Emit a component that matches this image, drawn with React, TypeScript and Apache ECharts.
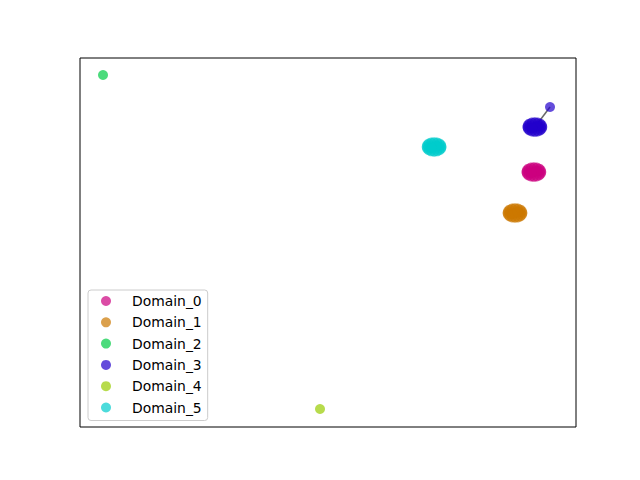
import React, { useEffect, useRef } from "react";
import * as echarts from "echarts";

const domainNames = ["Domain_0", "Domain_1", "Domain_2", "Domain_3", "Domain_4", "Domain_5"];
const domainColors = ["#cc007f", "#cc7700", "#00cc44", "#2200cc", "#99cc00", "#00cccc"];

const domain0: number[][] = [
  [90.0, 69.1], [93.0, 69.1], [91.5, 70.4], [91.5, 67.8], [90.4, 70.0], [92.6, 70.0],
  [90.4, 68.2], [92.6, 68.2], [90.9, 70.3], [92.1, 70.3], [90.9, 67.9], [92.1, 67.9],
  [90.1, 69.6], [92.9, 68.6], [90.1, 68.6], [92.9, 69.6], [91.5, 69.1], [92.0, 69.4], [91.0, 68.8],
];
const domain1: number[][] = [
  [86.2, 58.0], [89.2, 58.0], [87.7, 59.3], [87.7, 56.7], [86.6, 58.9], [88.8, 58.9],
  [86.6, 57.1], [88.8, 57.1], [87.1, 59.2], [88.3, 59.2], [87.1, 56.8], [88.3, 56.8],
  [86.3, 58.5], [89.1, 57.5], [86.3, 57.5], [89.1, 58.5], [87.7, 58.0], [88.2, 58.3], [87.2, 57.7],
];
const domain2: number[][] = [[4.64, 95.39]];
const domain3: number[][] = [
  [90.2, 81.3], [93.2, 81.3], [91.7, 82.6], [91.7, 80.0], [90.6, 82.2], [92.8, 82.2],
  [90.6, 80.4], [92.8, 80.4], [91.1, 82.5], [92.3, 82.5], [91.1, 80.1], [92.3, 80.1],
  [90.3, 81.8], [93.1, 80.8], [90.3, 80.8], [93.1, 81.8], [91.7, 81.3], [92.2, 81.6], [91.2, 81.0],
  [94.76, 86.72],
];
const domain4: number[][] = [[48.39, 4.88]];
const domain5: number[][] = [
  [69.9, 75.9], [72.9, 75.9], [71.4, 77.2], [71.4, 74.6], [70.3, 76.8], [72.5, 76.8],
  [70.3, 75.0], [72.5, 75.0], [70.8, 77.1], [72.0, 77.1], [70.8, 74.7], [72.0, 74.7],
  [70.0, 76.4], [72.8, 75.4], [70.0, 75.4], [72.8, 76.4], [71.4, 75.9], [71.9, 76.2], [70.9, 75.6],
];
const domain3Link: number[][] = [[91.73, 81.3], [94.76, 86.72]];

const allDomains = [domain0, domain1, domain2, domain3, domain4, domain5];

export default function App() {
  const ref = useRef<HTMLDivElement>(null);
  useEffect(() => {
    if (!ref.current) return;
    const chart = echarts.init(ref.current, null, { renderer: "svg" });
    const scatterSeries = allDomains.map((d, i) => ({
      name: domainNames[i],
      type: "scatter",
      data: d,
      symbol: "circle",
      symbolSize: 10,
      itemStyle: { color: domainColors[i], opacity: 0.7 },
      z: 3,
    }));
    chart.setOption({
      animation: false,
      backgroundColor: "#ffffff",
      grid: {
        left: 80,
        top: 58,
        width: 496,
        height: 369,
        show: true,
        borderColor: "#000000",
        borderWidth: 1,
        backgroundColor: "transparent",
      },
      xAxis: {
        type: "value",
        min: 0,
        max: 100,
        axisLine: { show: false },
        axisTick: { show: false },
        axisLabel: { show: false },
        splitLine: { show: false },
      },
      yAxis: {
        type: "value",
        min: 0,
        max: 100,
        axisLine: { show: false },
        axisTick: { show: false },
        axisLabel: { show: false },
        splitLine: { show: false },
      },
      legend: {
        data: domainNames,
        orient: "vertical",
        left: 88,
        top: 290,
        padding: [4, 6, 6, 13],
        icon: "circle",
        itemWidth: 10,
        itemHeight: 10,
        itemGap: 7.3,
        backgroundColor: "rgba(255,255,255,0.8)",
        borderColor: "#cccccc",
        borderWidth: 1,
        borderRadius: 3,
        textStyle: {
          fontFamily: "DejaVu Sans",
          fontSize: 13.9,
          lineHeight: 14,
          color: "#000000",
          padding: [0, 0, 0, 16],
        },
      },
      series: [
        {
          name: "link",
          type: "line",
          data: domain3Link,
          showSymbol: false,
          symbol: "none",
          lineStyle: { color: "#444444", width: 1.5, opacity: 0.8 },
          z: 2,
        },
        ...scatterSeries,
      ],
    });
    return () => chart.dispose();
  }, []);
  return (
    <div
      ref={ref}
      style={{ position: "fixed", left: 0, top: 0, width: 640, height: 480 }}
    />
  );
}
